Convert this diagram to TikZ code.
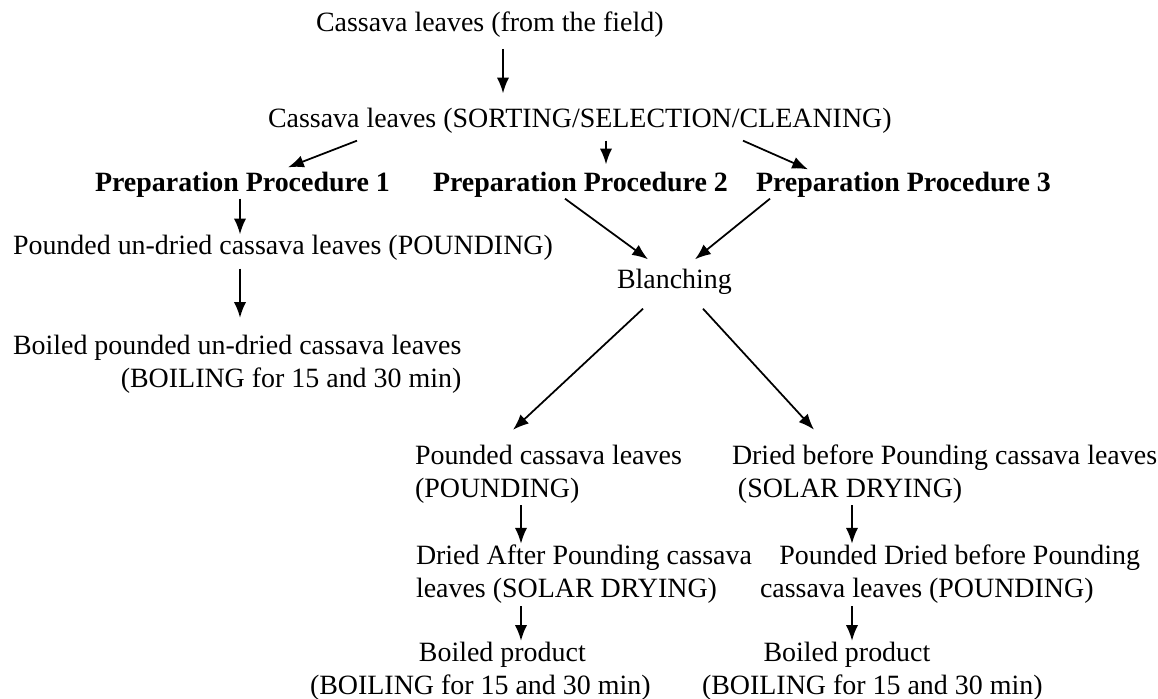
\documentclass[tikz,border=0pt]{standalone}
\usepackage{fontspec}
\setmainfont{Liberation Serif}
\usetikzlibrary{arrows.meta,calc}
\begin{document}
\begin{tikzpicture}[x=0.02cm, y=-0.02cm,
        txt/.style={inner sep=0pt, outer sep=0pt, anchor=west, align=left,
          font=\fontsize{15.9}{18.8}\selectfont},
        proc/.style={txt, font=\fontsize{15.9}{18.8}\selectfont\bfseries},
        arr/.style={-{Latex[length=9pt,width=7pt]}, line width=1pt}]
        \useasboundingbox (0,0) rectangle (1158,698);
        \node [txt] (field) at (316,25) {Cassava leaves (from the field)};
        \node [txt] (sort) at (268,121) {Cassava leaves (SORTING/SELECTION/CLEANING)};
        \node [proc] (p1) at (95,185) {Preparation Procedure 1};
        \node [proc] (p2) at (433,185) {Preparation Procedure 2};
        \node [proc] (p3) at (756,185) {Preparation Procedure 3};
        \node [txt] (pund) at (13,248) {Pounded un-dried cassava leaves (POUNDING)};
        \node [txt, align=right] (boilund) at (13,364) {Boiled pounded un-dried cassava leaves\\(BOILING for 15 and 30 min)};
        \node [txt] (blanch) at (617,282) {Blanching};
        \node [txt] (pounded) at (415,474) {Pounded cassava leaves\\(POUNDING)};
        \node [txt] (dried) at (732,474) {Dried before Pounding cassava leaves\\\hspace*{3.4pt}(SOLAR DRYING)};
        \node [txt] (dap) at (416,574) {Dried After Pounding cassava\\leaves (SOLAR DRYING)};
        \node [txt] (pdb) at (760,574) {\hspace*{11pt}Pounded Dried before Pounding\\cassava leaves (POUNDING)};
        \node [txt] (boil1) at (310,671) {\hspace*{62pt}Boiled product\\(BOILING for 15 and 30 min)};
        \node [txt] (boil2) at (702,671) {\hspace*{35pt}Boiled product\\(BOILING for 15 and 30 min)};
        % top part
        \draw [arr] ($(field.south -| 503,0)+(0,11)$) -- ($(sort.north -| 503,0)+(0,-15)$);
        \draw [arr] ($(sort.south -| 357,0)+(0,7)$) -- ($(p1.north -| 288,0)+(0,-5)$);
        \draw [arr] ($(sort.south -| 606,0)+(0,7)$) -- ($(p2.north -| 606,0)+(0,-8)$);
        \draw [arr] ($(sort.south -| 743,0)+(0,7)$) -- ($(p3.north -| 808,0)+(0,-3)$);
        % procedure 1
        \draw [arr] ($(p1.south -| 240,0)+(0,1)$) -- ($(pund.north -| 240,0)+(0,-1)$);
        \draw [arr] ($(pund.south -| 240,0)+(0,8)$) -- ($(boilund.north -| 240,0)+(0,-17)$);
        % procedures 2 and 3
        \draw [arr] ($(p2.south -| 565,0)+(0,1)$) -- ($(blanch.north -| 648,0)+(0,-10)$);
        \draw [arr] ($(p3.south -| 770,0)+(0,1)$) -- ($(blanch.north -| 695,0)+(0,-10)$);
        \draw [arr] ($(blanch.south -| 643,0)+(0,14)$) -- ($(pounded.north -| 513,0)+(0,-15)$);
        \draw [arr] ($(blanch.south -| 703,0)+(0,14)$) -- ($(dried.north -| 814,0)+(0,-15)$);
        \draw [arr] ($(pounded.south -| 521,0)+(0,2)$) -- ($(dap.north -| 521,0)+(0,-1)$);
        \draw [arr] ($(dried.south -| 852,0)+(0,2)$) -- ($(pdb.north -| 852,0)+(0,-1)$);
        \draw [arr] ($(dap.south -| 521,0)+(0,3)$) -- ($(boil1.north -| 521,0)+(0,-1)$);
        \draw [arr] ($(pdb.south -| 852,0)+(0,3)$) -- ($(boil2.north -| 852,0)+(0,-1)$);
\end{tikzpicture}
\end{document}
